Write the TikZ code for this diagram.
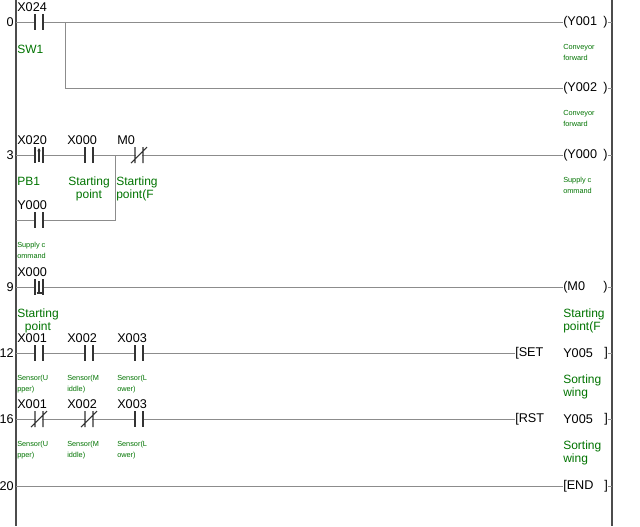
\documentclass[tikz,border=0pt]{standalone}
\usepackage{fontspec}
\usetikzlibrary{arrows.meta}
\setmainfont{Liberation Sans}
\begin{document}
\begin{tikzpicture}[x=0.75pt,y=-0.75pt,
  wire/.style={draw=black!45,line width=0.6pt},
  rail/.style={draw=black!70,line width=0.8pt},
  bar/.style={draw=black!80,line width=0.8pt},
  lab/.style={font=\fontsize{9.5pt}{10pt}\selectfont,inner sep=0pt,anchor=base west},
  num/.style={font=\fontsize{9.5pt}{10pt}\selectfont,inner sep=0pt,anchor=east},
  gbig/.style={font=\fontsize{9pt}{7.5pt}\selectfont,text=green!45!black,inner sep=0pt,anchor=north west,align=left},
  gsm/.style={font=\fontsize{5.5pt}{8pt}\selectfont,text=green!45!black,inner sep=0pt,anchor=north west,align=left},
  coil/.style={font=\fontsize{9.5pt}{10pt}\selectfont,inner sep=0pt,anchor=west},
  pics/no/.style={code={\fill[white](0.6,-9) rectangle (7.4,9);\draw[bar](0,-8)--(0,8)(8,-8)--(8,8);}},
  pics/nc/.style={code={\fill[white](0.6,-9) rectangle (7.4,9);\draw[bar](0,-8)--(0,8)(8,-8)--(8,8)(-4,8)--(12,-8);}},
  pics/pe/.style={code={\fill[white](0.6,-9) rectangle (7.4,9);\draw[bar](0,-8)--(0,8)(8,-8)--(8,8)(4,7)--(4,-6);\draw[bar,-{Stealth[length=2.5pt,width=2.5pt]}](4,-2)--(4,-7);}},
  pics/ne/.style={code={\fill[white](0.6,-9) rectangle (7.4,9);\draw[bar](0,-8)--(0,8)(8,-8)--(8,8)(4,-6)--(4,7);\draw[bar](1.5,6)--(6.5,6);}},
]
\useasboundingbox (0,0) rectangle (640,526);
\coordinate (L0) at (16,0); \coordinate (L1) at (16,526);
\coordinate (R0) at (612,0); \coordinate (R1) at (612,526);
\draw[rail] (L0)--(L1); \draw[rail] (R0)--(R1);
% rung 0
\node[coil] (c1) at (563,22) {(Y001}; \node[coil] (e1) at (603,22) {)};
\node[coil] (c2) at (563,88) {(Y002}; \node[coil] (e2) at (603,88) {)};
\coordinate (b0) at (65,22); \coordinate (b1) at (65,88);
\draw[wire] (16,22)--(c1.west); \draw[wire] (e1.east)--(612,22);
\draw[wire] (b0)--(b1)--(c2.west); \draw[wire] (e2.east)--(612,88);
\pic at (35,22) {no};
\node[num] (n0) at (14,22) {0};
\node[lab] (t1) at (17,11) {X024};
\node[gbig] (g1) at (17,45) {SW1};
\node[gsm] (s1) at (563,44) {Conveyor\\ forward};
\node[gsm] (s2) at (563,110) {Conveyor\\ forward};
% rung 3
\node[coil] (c3) at (563,155) {(Y000}; \node[coil] (e3) at (603,155) {)};
\draw[wire] (16,155)--(c3.west); \draw[wire] (e3.east)--(612,155);
\coordinate (j1) at (115,155); \coordinate (j2) at (115,220);
\draw[wire] (16,220)--(j2)--(j1);
\pic at (35,155) {pe}; \pic at (85,155) {no}; \pic at (135,155) {nc};
\pic at (35,220) {no};
\node[num] (n3) at (14,155) {3};
\node[lab] (t2) at (17,144) {X020};
\node[lab] (t3) at (67,144) {X000};
\node[lab] (t4) at (117,144) {M0};
\node[lab] (t5) at (17,209) {Y000};
\node[gbig] (g2) at (17,177) {PB1};
\node[gbig,align=center,anchor=north] (g3) at (89,177) {Starting\\point};
\node[gbig] (g4) at (116,177) {Starting\\ point(F};
\node[gsm] (s3) at (563,177) {Supply c\\ommand};
\node[gsm] (s4) at (17,242) {Supply c\\ommand};
% rung 9
\node[coil] (c4) at (563,287) {(M0}; \node[coil] (e4) at (603,287) {)};
\draw[wire] (16,287)--(c4.west); \draw[wire] (e4.east)--(612,287);
\pic at (35,287) {ne};
\node[num] (n9) at (14,287) {9};
\node[lab] (t6) at (17,276) {X000};
\node[gbig,align=center,anchor=north] (g5) at (38,309) {Starting\\point};
\node[gbig] (g6) at (563,309) {Starting\\ point(F};
% rung 12
\node[coil] (c5) at (515,353) {[SET}; \node[coil] (d5) at (563,353) {Y005}; \node[coil] (e5) at (604,353) {]};
\draw[wire] (16,353)--(c5.west); \draw[wire] (e5.east)--(612,353);
\pic at (35,353) {no}; \pic at (85,353) {no}; \pic at (135,353) {no};
\node[num] (n12) at (14,353) {12};
\node[lab] (t7) at (17,342) {X001};
\node[lab] (t8) at (67,342) {X002};
\node[lab] (t9) at (117,342) {X003};
\node[gsm] (s5) at (17,375) {Sensor(U\\pper)};
\node[gsm] (s6) at (67,375) {Sensor(M\\iddle)};
\node[gsm] (s7) at (117,375) {Sensor(L\\ower)};
\node[gbig] (g7) at (563,375) {Sorting\\wing};
% rung 16
\node[coil] (c6) at (515,419) {[RST}; \node[coil] (d6) at (563,419) {Y005}; \node[coil] (e6) at (604,419) {]};
\draw[wire] (16,419)--(c6.west); \draw[wire] (e6.east)--(612,419);
\pic at (35,419) {nc}; \pic at (85,419) {nc}; \pic at (135,419) {no};
\node[num] (n16) at (14,419) {16};
\node[lab] (t10) at (17,408) {X001};
\node[lab] (t11) at (67,408) {X002};
\node[lab] (t12) at (117,408) {X003};
\node[gsm] (s8) at (17,441) {Sensor(U\\pper)};
\node[gsm] (s9) at (67,441) {Sensor(M\\iddle)};
\node[gsm] (s10) at (117,441) {Sensor(L\\ower)};
\node[gbig] (g8) at (563,441) {Sorting\\wing};
% rung 20
\node[coil] (c7) at (563,486) {[END}; \node[coil] (e7) at (604,486) {]};
\draw[wire] (16,486)--(c7.west); \draw[wire] (e7.east)--(612,486);
\node[num] (n20) at (14,486) {20};
\end{tikzpicture}
\end{document}
